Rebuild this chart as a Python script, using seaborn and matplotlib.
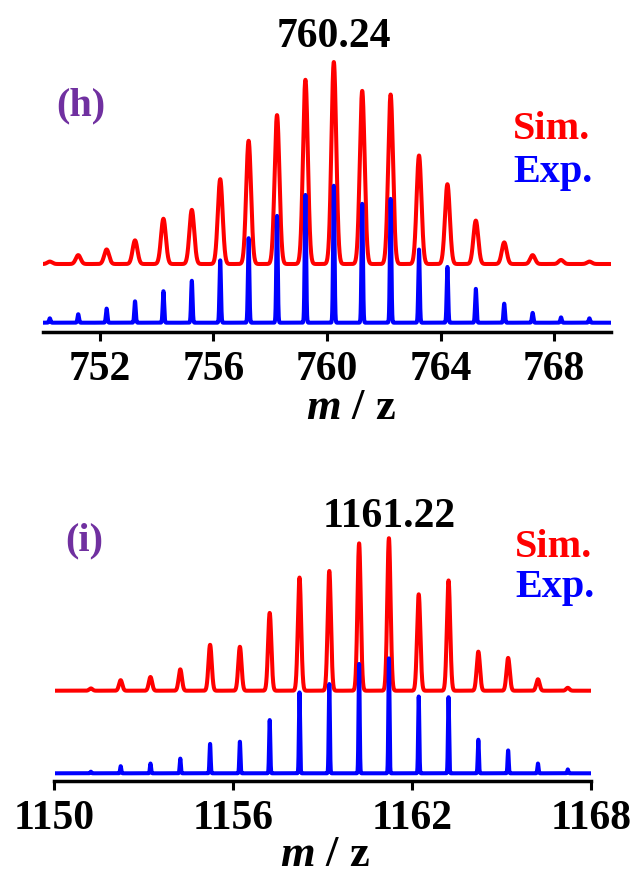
import numpy as np
import pandas as pd
import matplotlib
matplotlib.use("Agg")
import matplotlib.pyplot as plt
import seaborn as sns

# ---- isotope patterns, relative intensity (%) ----
# panel (h): envelope around m/z 760.24
h_mz = [750.24, 751.24, 752.24, 753.24, 754.24, 755.24, 756.24, 757.24, 758.24, 759.24,
        760.24, 761.24, 762.24, 763.24, 764.24, 765.24, 766.24, 767.24, 768.24, 769.24]
h_sim = [1.2, 4.4, 7.2, 11.7, 22.4, 26.8, 42.0, 61.0, 73.7, 91.2,
         100.0, 85.7, 83.9, 53.7, 39.5, 21.5, 10.7, 4.4, 2.0, 1.2]
h_exp = [3.2, 6.2, 10.3, 15.6, 23.0, 30.6, 45.5, 61.7, 78.0, 93.3,
         100.0, 86.8, 90.4, 53.4, 40.7, 24.7, 13.9, 7.2, 3.9, 3.2]
h_peak = 760.24
h_ticks = [752, 756, 760, 764, 768]

# panel (i): envelope around m/z 1161.22
i_mz = [1151.22, 1152.22, 1153.22, 1154.22, 1155.22, 1156.22, 1157.22, 1158.22, 1159.22,
        1160.22, 1161.22, 1162.22, 1163.22, 1164.22, 1165.22, 1166.22, 1167.22]
i_sim = [1.5, 6.9, 9.0, 14.0, 30.1, 28.8, 51.0, 74.2, 78.5,
         96.6, 100.0, 63.2, 72.3, 25.6, 21.5, 7.5, 1.9]
i_exp = [1.4, 6.2, 8.5, 12.8, 25.6, 27.5, 46.3, 70.4, 77.6,
         95.1, 100.0, 66.8, 66.2, 29.2, 19.9, 8.5, 3.4]
i_peak = 1161.22
i_ticks = [1150, 1156, 1162, 1168]

trace_names = ["Sim.", "Exp."]
panel_names = ["(h)", "(i)"]

# ---- styling ----
sns.set_style("white")
plt.rcParams["font.family"] = ["Liberation Serif", "DejaVu Serif"]
plt.rcParams["font.weight"] = "bold"
plt.rcParams["mathtext.fontset"] = "custom"
plt.rcParams["mathtext.bfit"] = "Liberation Serif:italic:bold"
plt.rcParams["mathtext.rm"] = "Liberation Serif:bold"

W, H = 638, 874
colors = {"Sim.": "#ff0000", "Exp.": "#0000ff"}
purple = "#7030a0"

# layout in pixels: axes box (x0, y_top, x1, y_spine), trace baselines and heights
layouts = [
    dict(xlim=(750, 770), box=(43, 10, 611, 331.5),
         base={"Sim.": 67.5, "Exp.": 8.8}, scale={"Sim.": 202, "Exp.": 137},
         fwhm={"Sim.": 0.2, "Exp.": 0.06},
         panel_xy=(750.45, 216.5), peak_y=284.2,
         legend_x=766.55, legend_y={"Sim.": 192.2, "Exp.": 149.8},
         label_x=760.85, label_y=-87.5),
    dict(xlim=(1150, 1168), box=(54.5, 470, 591, 781),
         base={"Sim.": 90.3, "Exp.": 7.7}, scale={"Sim.": 152.5, "Exp.": 115},
         fwhm={"Sim.": 0.13, "Exp.": 0.045},
         panel_xy=(1150.35, 230.3), peak_y=254.3,
         legend_x=1165.45, legend_y={"Sim.": 224.3, "Exp.": 184.3},
         label_x=1159.06, label_y=-84.5),
]
datasets = [
    dict(mz=h_mz, Sim=h_sim, Exp=h_exp, peak=h_peak, ticks=h_ticks, name=panel_names[0]),
    dict(mz=i_mz, Sim=i_sim, Exp=i_exp, peak=i_peak, ticks=i_ticks, name=panel_names[1]),
]


def profile(grid, centers, heights, fwhm):
    """Sum of Gaussian line shapes for a stick spectrum."""
    sigma = fwhm / 2.3548
    c = np.asarray(centers)[:, None]
    a = np.asarray(heights)[:, None]
    return (a * np.exp(-0.5 * ((grid[None, :] - c) / sigma) ** 2)).sum(axis=0)


fig = plt.figure(figsize=(W / 100, H / 100), dpi=100)
fig.patch.set_facecolor("white")

for data, lay in zip(datasets, layouts):
    x0, yt, x1, ys = lay["box"]
    ax = fig.add_axes([x0 / W, 1 - ys / H, (x1 - x0) / W, (ys - yt) / H])
    ax.set_facecolor("white")

    grid = np.linspace(lay["xlim"][0], lay["xlim"][1], 12000)
    frames = []
    for t in trace_names:
        key = t.rstrip(".")
        inten = profile(grid, data["mz"], data[key], lay["fwhm"][t]) / 100.0
        frames.append(pd.DataFrame({"mz": grid,
                                    "y": lay["base"][t] + inten * lay["scale"][t],
                                    "trace": t}))
    df = pd.concat(frames, ignore_index=True)

    sns.lineplot(data=df, x="mz", y="y", hue="trace", hue_order=trace_names,
                 palette=colors, estimator=None, sort=False, legend=False,
                 linewidth=2.9, ax=ax)

    ax.set_xlim(*lay["xlim"])
    ax.set_ylim(0, ys - yt)
    ax.set_xticks(data["ticks"])
    ax.set_xticklabels([str(t) for t in data["ticks"]])
    ax.set_yticks([])
    ax.set_xlabel("")
    ax.set_ylabel("")
    sns.despine(ax=ax, left=True)
    ax.spines["bottom"].set_linewidth(2.5)
    ax.spines["bottom"].set_color("black")
    ax.tick_params(axis="x", direction="out", length=6.5, width=2.2,
                   labelsize=30, pad=7.5, colors="black", bottom=True)
    for lab in ax.get_xticklabels():
        lab.set_fontweight("bold")

    # annotations
    ax.text(data["peak"], lay["peak_y"], f"{data['peak']:.2f}", ha="center",
            va="baseline", fontsize=30, fontweight="bold", color="black")
    ax.text(lay["panel_xy"][0], lay["panel_xy"][1], data["name"], ha="left",
            va="baseline", fontsize=29, fontweight="bold", color=purple)
    for t in trace_names:
        ax.text(lay["legend_x"], lay["legend_y"][t], t, ha="left", va="baseline",
                fontsize=29, fontweight="bold", color=colors[t])
    ax.text(lay["label_x"], lay["label_y"], r"$\mathbfit{m}$ / z", ha="center",
            va="baseline", fontsize=32, fontweight="bold", color="black",
            clip_on=False)

fig.savefig("out.png", dpi=100, facecolor="white")
